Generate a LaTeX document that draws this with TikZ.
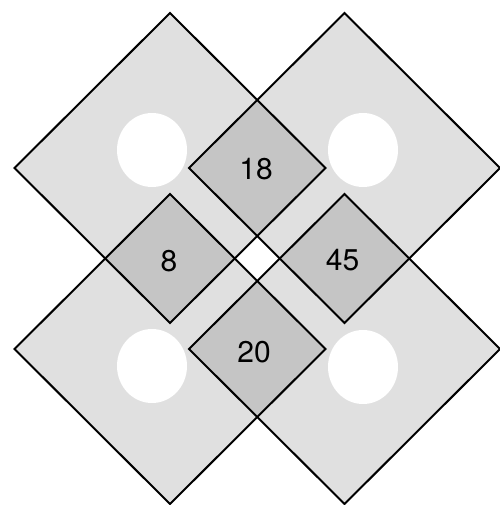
\documentclass[tikz,border=0pt]{standalone}
\usepackage{fontspec}
\setmainfont{TeX Gyre Heros}
\begin{document}
\begin{tikzpicture}[x=1pt,y=-1pt,
    tile/.style={fill=black, fill opacity=0.12, draw=black, line width=2pt},
    hole/.style={fill=white},
    count/.style={font=\fontsize{30}{34}\selectfont, inner sep=0pt}]
    \useasboundingbox (0,0) rectangle (499,505);
    % Tile centres
    \coordinate (tl) at (170,168);
    \coordinate (tr) at (344.5,168);
    \coordinate (bl) at (170,349);
    \coordinate (br) at (344.5,349);

    % Tiles (overlaps come out darker)
    \filldraw[tile, shift={(tl)}] (-155.5,0) -- (0,-155) -- (155.5,0) -- (0,155) -- cycle;
    \filldraw[tile, shift={(tr)}] (-155.5,0) -- (0,-155) -- (155.5,0) -- (0,155) -- cycle;
    \filldraw[tile, shift={(bl)}] (-155.5,0) -- (0,-155) -- (155.5,0) -- (0,155) -- cycle;
    \filldraw[tile, shift={(br)}] (-155.5,0) -- (0,-155) -- (155.5,0) -- (0,155) -- cycle;

    % Holes
    \fill[hole] (152,150) ellipse (35 and 37);
    \fill[hole] (363,150) ellipse (35 and 37);
    \fill[hole] (152,366) ellipse (35 and 37);
    \fill[hole] (363,367) ellipse (35 and 37);

    % Numbers in the overlaps
    \node[count] (n18) at (256,169.5) {18};
    \node[count] (n8) at (169,261) {8};
    \node[count] (n45) at (342.5,260.5) {45};
    \node[count] (n20) at (254,352) {20};
\end{tikzpicture}
\end{document}
